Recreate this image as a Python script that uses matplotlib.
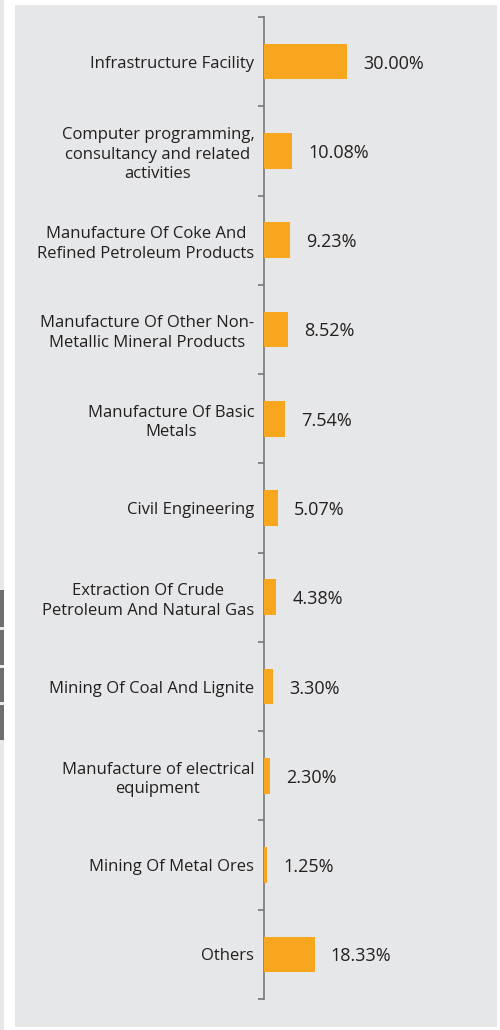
import matplotlib.pyplot as plt
from matplotlib.patches import Rectangle

# Data
sectors = ['Infrastructure Facility',
           'Computer programming,\nconsultancy and related\nactivities',
           'Manufacture Of Coke And\nRefined Petroleum Products',
           'Manufacture Of Other Non-\nMetallic Mineral Products',
           'Manufacture Of Basic\nMetals',
           'Civil Engineering',
           'Extraction Of Crude\nPetroleum And Natural Gas',
           'Mining Of Coal And Lignite',
           'Manufacture of electrical\nequipment',
           'Mining Of Metal Ores',
           'Others']
weights = [30.00, 10.08, 9.23, 8.52, 7.54, 5.07, 4.38, 3.30, 2.30, 1.25, 18.33]
labels = ['30.00%', '10.08%', '9.23%', '8.52%', '7.54%', '5.07%', '4.38%',
          '3.30%', '2.30%', '1.25%', '18.33%']

plt.rcParams['font.family'] = ['Open Sans', 'DejaVu Sans']
W, H = 500, 1030
fig = plt.figure(figsize=(W / 100, H / 100), dpi=100)
fig.patch.set_facecolor('white')

# page decoration
def bg(x0, y0, x1, y1, c):
    fig.patches.append(Rectangle((x0 / W, 1 - y1 / H), (x1 - x0) / W, (y1 - y0) / H,
                                 transform=fig.transFigure, facecolor=c,
                                 edgecolor='none', zorder=-5))

bg(0, 0, 4, H, '#e8e8e9')
for y0, y1 in [(590, 627), (630, 665), (668, 702), (705, 740)]:
    bg(0, y0, 4, y1, '#6d6e71')
bg(15, 5, 497, 1027, '#e6e7e8')

ax = fig.add_axes([264 / W, 1 - 999 / H, (497 - 264) / W, (999 - 17) / H])
ax.patch.set_alpha(0)

n = len(sectors)
pos = list(range(n))
ax.barh(pos, weights, height=0.4, color='#f9a61f', zorder=3)
for p, w, t in zip(pos, weights, labels):
    ax.text(w + 5.8, p, t, va='center_baseline', ha='left', fontsize=13,
            color='#231f20')

ax.set_xlim(0, 233 / 2.77)
ax.set_ylim(n - 0.5, -0.5)
ax.set_yticks(pos)
ax.set_yticklabels(sectors, fontsize=12, color='#231f20', multialignment='center',
                   linespacing=1.28)
ax.set_yticks([i - 0.5 for i in range(n + 1)], minor=True)
ax.tick_params(axis='y', which='major', length=0, pad=7)
ax.tick_params(axis='y', which='minor', length=4, width=1.3, color='#808080')
ax.set_xticks([])
for s in ['top', 'right', 'bottom']:
    ax.spines[s].set_visible(False)
ax.spines['left'].set_color('#808080')
ax.spines['left'].set_linewidth(1.3)

fig.savefig('out.png', dpi=100)
